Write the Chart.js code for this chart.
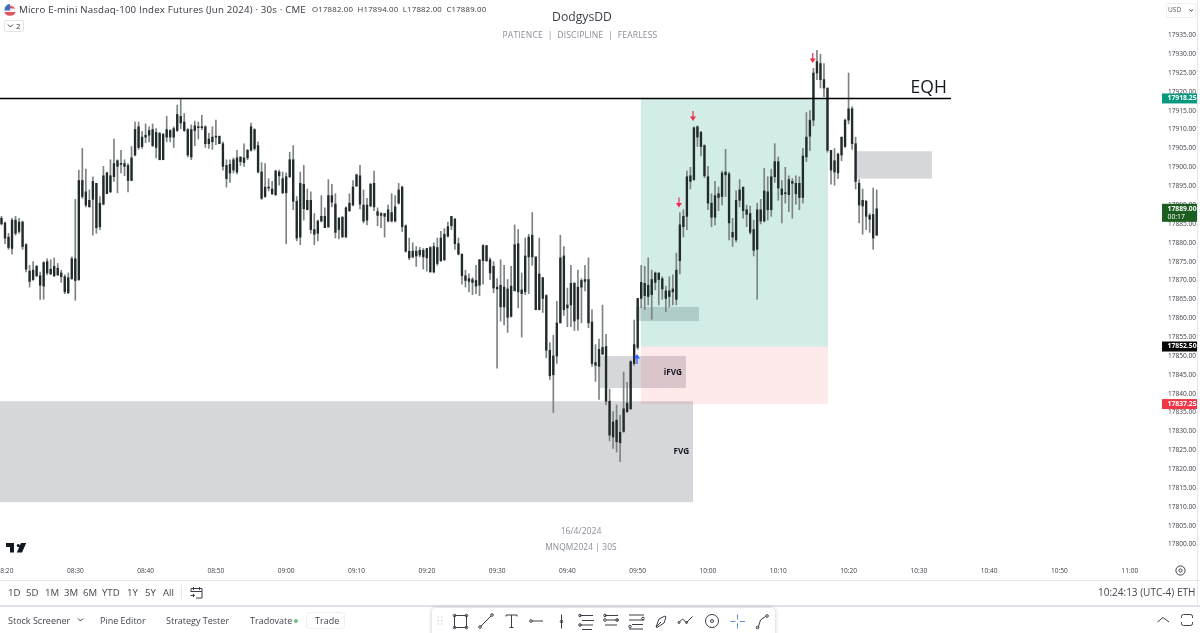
<!DOCTYPE html>
<html><head><meta charset="utf-8">
<script src="https://cdn.jsdelivr.net/npm/chart.js@4"></script>
<style>
html,body{margin:0;padding:0;background:#fff;width:1200px;height:633px;overflow:hidden;font-family:"Open Sans",sans-serif;color:#2e3238}
#wrap{position:absolute;left:0;top:0;width:1200px;height:580px}
.t{position:absolute;white-space:nowrap;line-height:1}
.ui{font-size:9.6px;color:#42464f}
.hline{position:absolute;left:0;width:1200px;background:#e4e6ed}
svg{position:absolute;overflow:visible}
svg.ic *{fill:none;stroke:#3a3e46;stroke-width:1}
</style></head><body>
<div id="wrap"><canvas id="c"></canvas></div>

<div class="t" style="left:19px;top:5px;font-size:9.7px;color:#33373f;letter-spacing:.18px">Micro E-mini Nasdaq-100 Index Futures (Jun 2024) · 30s · CME</div>
<div class="t" style="left:312px;top:6px;font-size:7.8px;color:#33373f;letter-spacing:.2px">O17882.00&nbsp; H17894.00&nbsp; L17882.00&nbsp; C17889.00</div>
<svg style="left:4px;top:4px" width="13" height="13"><circle cx="6" cy="6" r="6" fill="#f3f3f6"/><path d="M1 4.5a6 6 0 0 1 10 0zM.4 8h11.2a6 6 0 0 1-11.2 0z" fill="#e0555f"/><path d="M.5 6.4a6 6 0 0 1 5.5-6.4v6.4z" fill="#3f6fb8"/></svg>
<div style="position:absolute;left:4px;top:20px;width:20px;height:12px;border:1px solid #e2e4ea;border-radius:2px;box-sizing:border-box"></div>
<svg class="ic" style="left:8px;top:24px" width="6" height="4"><path d="M0 .5L2.5 3L5 .5"/></svg>
<div class="t" style="left:16px;top:22px;font-size:8px;color:#33373f">2</div>

<div class="t" style="left:482px;width:200px;text-align:center;top:11px;font-size:12.2px;color:#3b3f47">DodgysDD</div>
<div class="t" style="left:450px;width:260px;text-align:center;top:30.5px;font-size:8.6px;color:#8a8e99;letter-spacing:.15px">PATIENCE &nbsp;|&nbsp; DISCIPLINE &nbsp;|&nbsp; FEARLESS</div>
<div class="t" style="left:481px;width:200px;text-align:center;top:526.5px;font-size:8.6px;color:#8a8e99">16/4/2024</div>
<div class="t" style="left:481px;width:200px;text-align:center;top:542.5px;font-size:8.4px;color:#8a8e99;letter-spacing:.1px">MNQM2024 | 30S</div>
<svg style="left:6px;top:543px" width="20" height="10"><path d="M0 0h8v9.5H4V4H0zM10.8 2.6a1.5 1.5 0 1 1 0 .01zM15 0h5.2l-4.2 9.5h-5.2z" fill="#131722"/></svg>

<div style="position:absolute;left:1166px;top:3px;width:30px;height:15px;border:1px solid #eceef2;border-radius:2px;box-sizing:border-box"></div>
<div class="t" style="left:1168px;top:7px;font-size:6.6px;color:#555a63">USD</div>
<svg class="ic" style="left:1189px;top:9px" width="5" height="3"><path d="M.5 .5L2.2 2.2L4 .5"/></svg>
<div style="position:absolute;left:1197px;top:0;width:1px;height:606px;background:#e6e8ee"></div>

<div class="hline" style="top:579.5px;height:1px"></div>
<div class="hline" style="top:604.5px;height:2px;background:#dfe1ea"></div>
<svg class="ic" style="left:1175px;top:565px" width="12" height="12"><circle cx="5.5" cy="5.5" r="4.6"/><circle cx="5.5" cy="5.5" r="1.6"/></svg>

<div class="t ui" style="left:8px;top:587.5px">1D</div>
<div class="t ui" style="left:26px;top:587.5px">5D</div>
<div class="t ui" style="left:45px;top:587.5px">1M</div>
<div class="t ui" style="left:64px;top:587.5px">3M</div>
<div class="t ui" style="left:83px;top:587.5px">6M</div>
<div class="t ui" style="left:102px;top:587.5px">YTD</div>
<div class="t ui" style="left:127px;top:587.5px">1Y</div>
<div class="t ui" style="left:145px;top:587.5px">5Y</div>
<div class="t ui" style="left:163px;top:587.5px">All</div>
<div style="position:absolute;left:181px;top:585px;width:1px;height:14px;background:#e4e6ed"></div>
<svg class="ic" style="left:190px;top:586px" width="14" height="13"><path d="M1 6V2.5h11V12H6M1 5.5h11M3.5 1v3M9.5 1v3M0.5 9.5h4M3 8l1.5 1.5L3 11"/></svg>
<div class="t" style="left:1098px;top:587px;font-size:10px;color:#42464f">10:24:13 (UTC-4)</div>
<div class="t" style="left:1177px;top:587px;font-size:10px;color:#42464f">ETH</div>

<div class="t ui" style="left:8px;top:615.5px;font-size:9px">Stock Screener</div>
<svg class="ic" style="left:78px;top:618px" width="6" height="4"><path d="M0 .5L2.5 3L5 .5"/></svg>
<div class="t ui" style="left:100px;top:615.5px;font-size:9px">Pine Editor</div>
<div class="t ui" style="left:166px;top:615.5px;font-size:9px">Strategy Tester</div>
<div class="t ui" style="left:250px;top:615.5px;font-size:9px">Tradovate</div>
<div style="position:absolute;left:294px;top:619px;width:3.5px;height:3.5px;border-radius:50%;background:#77c68a"></div>
<div style="position:absolute;left:306px;top:612px;width:39px;height:17px;border:1px solid #eceef2;border-radius:4px;box-sizing:border-box"></div>
<div class="t ui" style="left:315px;top:615.5px;font-size:9px">Trade</div>
<svg class="ic" style="left:1157px;top:616px" width="13" height="7"><path d="M.5 6L6 1.5L12 6"/></svg>
<svg class="ic" style="left:1181px;top:614px" width="13" height="13"><path d="M.5 4V2.5a2 2 0 0 1 2-2h7a2 2 0 0 1 2 2V4M.5 8v1.5a2 2 0 0 0 2 2h7a2 2 0 0 0 2-2V8"/></svg>

<div style="position:absolute;left:432px;top:608px;width:343px;height:30px;background:#fff;border-radius:4px;box-shadow:0 0 4px rgba(40,45,60,.28)"></div>
<svg style="left:437px;top:616px" width="8" height="10"><g fill="#cfd2da"><circle cx="1" cy="1" r=".8"/><circle cx="5" cy="1" r=".8"/><circle cx="1" cy="4.500" r=".8"/><circle cx="5" cy="4.500" r=".8"/><circle cx="1" cy="8" r=".8"/><circle cx="5" cy="8" r=".8"/></g></svg>
<svg class="ic" style="left:0;top:0" width="1200" height="633">
<path d="M454.500 615.500h12v12h-12z"/><circle cx="454.500" cy="615.500" r="1.300"/><circle cx="466.500" cy="615.500" r="1.300"/><circle cx="454.500" cy="627.500" r="1.300"/><circle cx="466.500" cy="627.500" r="1.300"/>
<path d="M480.500 626.500L491 616"/><circle cx="480" cy="627" r="1.300"/><circle cx="492" cy="615" r="1.300"/>
<path d="M506 616.500v-1.500h11v1.500M511.500 615v12.500M509.500 627.500h4"/>
<path d="M532 621h11"/><circle cx="531" cy="621" r="1.300"/>
<path d="M561.500 614.500v14"/><circle cx="561.500" cy="621.500" r="1.300"/>
<path d="M580 615.500h13M580 625h13M582 620.500h12M582 629.500h10"/><circle cx="580" cy="615.500" r="1.300"/><circle cx="580" cy="625" r="1.300"/>
<path d="M605 615.500h13M607 620h12M605 625h12"/><circle cx="605" cy="615.500" r="1.300"/><circle cx="605" cy="620" r="1.300"/><circle cx="617" cy="620" r="1.300"/>
<path d="M629 615h15M629 620h15M632 624.500h11M629 629h14"/><circle cx="630" cy="626.500" r="1.300"/><circle cx="643" cy="618.500" r="1.300"/>
<path d="M656 627l3-8 6-3 1 1-2 6-7 4.500zM656 627l5-5"/>
<path d="M679 622.500l3.500-3.500 4 3.500 6-6"/><circle cx="679" cy="622.500" r="1"/><circle cx="686.500" cy="622.500" r="1"/>
<circle cx="712" cy="621" r="6.500"/><circle cx="712" cy="621" r="1.500"/>
<path d="M758 628l2.500-8 5-3.500"/><circle cx="757.500" cy="627.500" r="1.300"/><circle cx="767" cy="616" r="1.300"/>
</svg>
<svg style="left:0;top:0" width="1200" height="633"><path d="M737.500 614.500v5M737.500 623.500v5M730.500 621.500h5M740 621.500h5" stroke="#5b8fe0" stroke-width="1" fill="none"/></svg>

<script>
const firstBarMinute = 499.5;
const barStepMinutes = 0.5;
const highs = [17887,17885.5,17882.5,17886.5,17887,17886.5,17885.75,17879.75,17874,17875,17874,17872.25,17875,17875.75,17875.5,17876,17874.5,17872.75,17871.5,17872,17876.25,17891.5,17899.25,17905,17899.5,17894,17897.5,17895.75,17892.25,17900.25,17898.75,17902,17907.5,17902,17904.5,17902,17901,17905.5,17912,17912,17909.5,17911.5,17910.75,17911.5,17910.25,17909.25,17909,17913.5,17910,17910.75,17916.5,17918.25,17914.25,17910.25,17911.25,17912.25,17912,17913.75,17911,17909,17910.75,17912.5,17908.25,17906.75,17902,17902,17902.5,17904.5,17902.75,17906.25,17904.75,17911.75,17910.25,17906.75,17901.25,17901,17897,17896.25,17899.25,17899.25,17898.75,17898.5,17904,17905.75,17892.25,
17898.75,17900.5,17894.25,17893.5,17887.75,17886,17892.5,17889.25,17896.75,17895.5,17893,17886.75,17887,17889.5,17893,17896.5,17898.25,17900.5,17894,17891.75,17895.75,17899,17889.25,17888,17887.75,17890,17893,17892.5,17895.75,17895,17884.75,17881.25,17880,17879,17878.75,17878.5,17878.5,17879,17880,17881.25,17883,17883.75,17885.5,17887,17886.5,17881.25,17877,17872.75,17871.75,17870.75,17874,17875.5,17879.5,17879.25,17876,17875,17870.5,17875.5,17874,17870.25,17873.75,17884.75,17883.5,17872,17881.25,17882.25,17888,17876.25,17881.25,17870.75,17866.25,17853.5,17855.5,17864.5,17882,17879,17868,17874,17869.5,17872.75,17870.5,17874,17876,17862.25,17853,17854.5,
17863.5,17855.75,17841.25,17835.25,17837,17834.25,17845.75,17843,17848.75,17859.5,17865.25,17874,17873.75,17876,17872.75,17872.25,17872,17871,17868.5,17871,
17871.5,17877.25,17888,17888.75,17899,17900,17910.75,17911,17909.5,17906,17900.25,17893,17896.25,17894.75,17899,17904.75,17898.75,17886.5,17893.75,17896.75,17894.75,17890,17889.75,17886,17890.5,17891.5,17899.75,17897.5,17899.5,17906.25,17902.75,17896.5,17900,17897.75,17897,17897.75,17897.5,17905,17914.5,17915,17926.25,17931,17930,17927.5,17921,17904.5,17905,17903.75,17908,17912.75,17925,17916,17908,17896.75,17894.25,17891.25,17887.75,17894.5,17894];
const bodyTops = [17886.5,17885.25,17881.5,17886,17886,17885.5,17885.5,17879.5,17872.5,17872.75,17873.75,17871.25,17874.75,17875,17873,17873.75,17873.25,17872,17871,17870.75,17875.75,17875.75,17896.5,17896.5,17893.5,17891.25,17896.25,17895.75,17890.5,17897.75,17898.5,17897.75,17901,17901.75,17901,17901,17900.5,17902.5,17910,17910.75,17908,17908.5,17909.75,17910,17909.25,17909,17908.75,17910,17909.75,17910.25,17914,17913.5,17912,17910,17910,17911,17910.75,17910.75,17910.75,17907.5,17908,17908.25,17908.25,17906.25,17900.5,17900.75,17902,17902.5,17902.75,17902.5,17904.5,17910.75,17910,17905.75,17898.75,17894.75,17894.75,17894.25,17899,17898.75,17897,17897.5,17902,17902,17891,
17895.75,17895.5,17891.25,17891.25,17883.5,17885.75,17887,17887,17892.5,17892.5,17890.25,17886.5,17886.75,17889.25,17890.5,17894.75,17898,17897.75,17890,17890,17895.5,17895.75,17888.25,17887.75,17887.75,17888.75,17888,17889.5,17894,17894.75,17884.5,17877.75,17877.75,17877.75,17878,17878,17878.5,17878.75,17879,17878.75,17881.25,17882.25,17884.25,17887,17886.25,17879.75,17877,17871.25,17870.5,17870.25,17870,17875.5,17879.25,17879.25,17875.5,17873.75,17868.25,17868.75,17868.25,17867.75,17868.5,17879.5,17879.75,17867.5,17876.5,17881.5,17882,17876.25,17871.75,17870.75,17866,17851.5,17850,17858.75,17876,17876.5,17863.5,17869.25,17869.25,17868.25,17870,17870.25,17870.25,17859,17848.25,17851.75,
17852.25,17852.5,17838,17832.5,17833,17829.75,17836,17837.5,17848.5,17853,17865.25,17869.5,17869.25,17868.75,17870.25,17872,17872,17870.5,17867.25,17867.25,
17867.75,17872.75,17884.75,17887,17897.5,17897.75,17910.5,17910.75,17909.25,17905.75,17897.5,17890.5,17892.5,17893,17898.5,17898.75,17898.25,17882.75,17891.25,17894,17894.75,17888.75,17887.75,17883.5,17888.75,17888.75,17893.75,17893.5,17897.5,17901.5,17901.5,17894.25,17893.25,17896.75,17896.25,17895.75,17895.75,17903,17908,17912.5,17925,17928,17927.5,17923.25,17921,17904.5,17901.75,17903.5,17908,17912.5,17915.5,17915.5,17906.25,17895.75,17891.25,17891,17887.25,17887.5,17889];
const bodyBottoms = [17885,17881.25,17878.75,17878.5,17882.5,17883,17879,17873,17869.75,17870.25,17871.25,17868.75,17868.5,17872,17871.75,17871.25,17871.5,17871,17867,17866.75,17870.5,17870,17870.25,17892.25,17890,17889.5,17891.5,17884,17884.25,17890.25,17893,17893.5,17897.5,17900.25,17900.75,17900.25,17896.5,17896.5,17903.25,17905.25,17905.5,17908,17908.5,17905.75,17905.25,17902,17902,17908,17908,17908,17909.75,17911.75,17909.75,17903.25,17902.75,17909.75,17910.5,17910.5,17906.25,17906.25,17906.75,17908,17906.25,17900.25,17897,17898.5,17899.25,17898.75,17901.5,17901.25,17902.5,17904.5,17905,17898.75,17891.75,17892.25,17894.5,17893,17892.75,17897.75,17893.25,17893.25,17897.5,17891,17881.25,
17881.5,17889,17888.75,17883.5,17882.25,17882.5,17885.75,17884,17884.25,17890.75,17882.75,17883.5,17881.5,17881.5,17888.5,17890,17895,17890.25,17885.75,17886,17889.75,17889.5,17887.25,17887.25,17887,17885.75,17885.75,17885.75,17890.5,17884.25,17877.75,17876,17876.25,17876.5,17876.75,17876.25,17876,17872.25,17872.25,17874.5,17875.25,17875.5,17881.75,17884.5,17879.75,17877,17871.25,17870,17869.75,17869.5,17868.5,17868.75,17875.25,17875.25,17872,17868,17867.75,17863,17863,17860.25,17860.5,17867.25,17867,17866.5,17867,17876.25,17876.25,17862.25,17862.25,17865.25,17851.5,17844.75,17845,17850,17858.75,17862.25,17862.75,17863.5,17859.25,17859.75,17868.25,17869.75,17858.75,17848,17847.5,17847.25,
17850.5,17838,17829,17828.5,17827.25,17827,17830,17835.25,17836,17848,17852.25,17865.25,17866,17865.75,17866.25,17869.5,17870.25,17867.75,17865.25,17865.75,
17867,17865,17875.25,17884.25,17887,17896.25,17896.75,17908,17905.5,17897.75,17890.5,17886.75,17886.75,17892,17892.25,17898,17885.25,17881.5,17880.75,17891.25,17888.5,17887.5,17882.75,17878,17878.25,17885.75,17885.75,17888.75,17888.75,17897.5,17894.5,17892.75,17893,17892.75,17895.75,17893,17892,17892,17902.75,17908.25,17912.5,17925,17923.25,17921,17904.5,17899.25,17898.75,17898.5,17903.25,17905.5,17912.5,17906.25,17896.25,17890,17889.75,17887,17886.25,17881.25,17882];
const lows = [17884.75,17879.75,17878.25,17877,17882,17882.5,17878.25,17872.25,17868.25,17870,17871,17865,17865,17871.5,17871.5,17871,17871.25,17869.5,17866.5,17866.5,17870.25,17864.75,17870,17891.75,17889.5,17889.5,17882,17882.5,17883.5,17890,17893,17893.25,17896.25,17893.25,17898.5,17897.75,17893.5,17896.5,17903,17904.75,17905,17906.5,17906.75,17905.5,17902.5,17902,17902,17906.75,17906.75,17905.25,17909.5,17910.25,17909.5,17902.75,17902,17905.75,17907.5,17910,17905.25,17905,17904.75,17906,17906.25,17899.25,17894.75,17896,17898.5,17898.25,17900.5,17900.25,17902,17904.25,17904.5,17898.5,17891.5,17892,17893.75,17892.75,17892.5,17895.25,17893,17879.75,17897.25,17888.75,17880.5,
17879.5,17886,17888.75,17882.5,17879.5,17880.5,17885.5,17884,17884,17889.5,17881.25,17881,17881.5,17881.5,17888.25,17889.75,17895,17889,17885.25,17884.75,17889.5,17888.5,17884.5,17884,17881.5,17885.5,17885.5,17885.5,17890.25,17883,17877.5,17875.5,17876,17873.75,17876.25,17873,17872.5,17872.25,17872,17874,17875,17875.25,17881.5,17883.5,17878.25,17876.75,17869,17868.25,17867,17866.25,17866.5,17866,17869,17875,17870.25,17866.75,17846.75,17859.25,17858.25,17856.25,17860.25,17867.25,17862.75,17855,17866.25,17866.5,17874,17862.25,17862.25,17861.5,17849.5,17843.75,17835,17848,17858.75,17860.75,17857.75,17857.75,17856.75,17856.75,17858.75,17867.25,17857.5,17847.25,17843.25,17838.5,
17850.25,17837,17827.5,17825.5,17824.5,17822,17829.75,17835,17835.75,17847.5,17851.75,17862.75,17862.25,17863.5,17859.75,17867.5,17863.5,17865,17861.75,17863,
17863.5,17863.5,17871.75,17881.5,17883.5,17894.25,17896.5,17905.5,17903,17897.25,17888.75,17884.25,17884.75,17888.5,17890,17892.25,17880.75,17879,17880.25,17889.5,17886.5,17884.25,17882.25,17876.5,17865,17885,17885.5,17886,17887,17896,17891.25,17885.25,17890.5,17888.25,17886.5,17890.25,17888.75,17890.5,17901.5,17904.5,17911,17923.25,17921,17918.75,17904,17895.5,17895.25,17897,17901.75,17905.25,17911.5,17904.75,17894.25,17885.25,17882.25,17883.5,17882.75,17878.25,17882];
const zoneStartMinutes = [499.29,584.64,589.76,620.9,590.47,590.47];
const zoneEndMinutes   = [597.87,596.87,598.72,631.86,617.07,617.07];
const zoneTopPrices    = [17838,17850,17863,17904.25,17918.25,17852.5];
const zoneBottomPrices = [17811.25,17841.5,17859.25,17897,17852.5,17837.25];
const zoneColors = ['rgba(120,123,134,.3)','rgba(120,123,134,.3)','rgba(120,123,134,.3)','rgba(120,123,134,.3)','rgba(8,153,129,.18)','rgba(242,54,69,.11)'];
const levelPrice = 17918.25, levelEndMinute = 634.57;
const arrowMinutes = [595.87,597.87,614.9,589.9];
const arrowPrices  = [17892,17914.9,17930.3,17847.9];
const arrowDirections = [1,1,1,-1];
const tagPrices = [17918.25,17889,17852.5,17837.25];
const tagLabels = ['17918.25','17889.00','17852.50','17837.25'];
const tagColors = ['#089981','#1b5e20','#050505','#f23645'];

const minuteOf = i => firstBarMinute + i*barStepMinutes;
const wicks  = highs.map((h,i)=>({x:minuteOf(i),y:[lows[i],h]}));
const bodies = bodyTops.map((t,i)=>({x:minuteOf(i),y:[bodyBottoms[i],t]}));

const overlay = {
  id:'overlay',
  beforeDatasetsDraw(c){
    const g=c.ctx,X=c.scales.x,Y=c.scales.y;
    g.save();
    zoneColors.forEach((col,i)=>{
      const x0=X.getPixelForValue(zoneStartMinutes[i]),x1=X.getPixelForValue(zoneEndMinutes[i]);
      const y0=Y.getPixelForValue(zoneTopPrices[i]),y1=Y.getPixelForValue(zoneBottomPrices[i]);
      g.fillStyle=col;g.fillRect(x0,y0,x1-x0,y1-y0);
    });
    g.restore();
  },
  afterDatasetsDraw(c){
    const g=c.ctx,X=c.scales.x,Y=c.scales.y;
    g.save();
    const ly=Y.getPixelForValue(levelPrice);
    g.strokeStyle='#000';g.lineWidth=1.4;g.beginPath();g.moveTo(0,ly);g.lineTo(X.getPixelForValue(levelEndMinute),ly);g.stroke();
    g.fillStyle='#131722';g.textBaseline='middle';g.textAlign='center';
    g.font='17.5px "Open Sans"';g.fillText('EQH',X.getPixelForValue(631.4),Y.getPixelForValue(17921.1));
    g.font='bold 8.2px "Open Sans"';
    g.fillText('iFVG',X.getPixelForValue(595),Y.getPixelForValue(17845.7));
    g.fillText('FVG',X.getPixelForValue(596.2),Y.getPixelForValue(17824.75));
    arrowMinutes.forEach((m,i)=>{
      const x=X.getPixelForValue(m),y=Y.getPixelForValue(arrowPrices[i]),d=arrowDirections[i];
      g.strokeStyle=g.fillStyle=d>0?'#ef2b4b':'#2962ff';
      g.lineWidth=1.2;g.beginPath();g.moveTo(x,y);g.lineTo(x,y+d*7);g.stroke();
      g.beginPath();g.moveTo(x-3,y+d*5.500);g.lineTo(x+3,y+d*5.500);g.lineTo(x,y+d*10);g.closePath();g.fill();
    });
    g.restore();
    g.save();
    g.textBaseline='middle';g.textAlign='left';g.font='bold 6.8px "Open Sans"';
    tagPrices.forEach((p,i)=>{
      const y=Y.getPixelForValue(p),two=i===1,top=y-5,h=two?18:10;
      g.fillStyle=tagColors[i];g.fillRect(1162,top,35,h);
      g.fillStyle='#fff';g.fillText(tagLabels[i],1167.5,top+5);
      if(two){g.font='6.8px "Open Sans"';g.fillText('00:17',1167.5,top+13);g.font='bold 6.8px "Open Sans"';}
    });
    g.restore();
  }
};

new Chart(document.getElementById('c'),{
  type:'bar',
  data:{datasets:[
    {label:'Wick',data:wicks,backgroundColor:'#7d8284',barThickness:1,grouped:false,order:2,borderWidth:0},
    {label:'Body',data:bodies,backgroundColor:'#222b2b',barThickness:1.7,grouped:false,order:1,borderWidth:0,minBarLength:1}
  ]},
  options:{
    responsive:true,maintainAspectRatio:false,animation:false,events:[],
    layout:{padding:0},
    plugins:{legend:{display:false},tooltip:{enabled:false},title:{display:false}},
    scales:{
      x:{type:'linear',offset:false,min:499.289,max:664.3,
        grid:{display:false,drawTicks:false,offset:false},border:{display:false},
        afterFit(s){s.height=20;s.paddingLeft=0;s.paddingRight=0;},
        ticks:{stepSize:10,includeBounds:false,autoSkip:false,maxRotation:0,minRotation:0,padding:7,color:'#3a3e46',font:{family:'Open Sans',size:6.6},
          callback:v=>{const h=Math.floor(v/60),m=v%60;return String(h).padStart(2,'0')+':'+String(m).padStart(2,'0');}}},
      y:{type:'linear',position:'right',min:17795.92,max:17944.34,
        grid:{display:false,drawTicks:false},border:{display:false},
        afterFit(s){s.width=40;s.paddingTop=0;s.paddingBottom=0;},
        ticks:{stepSize:5,includeBounds:false,autoSkip:false,padding:8,color:'#3a3e46',font:{family:'Open Sans',size:6.6},
          callback:v=>v>17935?null:v.toFixed(2)}}
    }
  },
  plugins:[overlay]
});
</script>
</body></html>
